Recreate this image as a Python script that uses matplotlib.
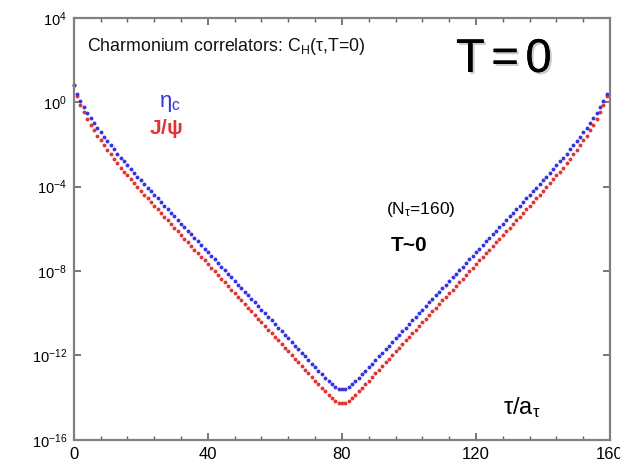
import numpy as np
import matplotlib
matplotlib.use("Agg")
import matplotlib.pyplot as plt
import matplotlib.patheffects as pe
from matplotlib.ticker import MultipleLocator, FixedLocator

plt.rcParams['font.family'] = ['Liberation Sans', 'DejaVu Sans']
plt.rcParams['mathtext.fontset'] = 'custom'
plt.rcParams['mathtext.rm'] = 'Liberation Sans'
plt.rcParams['mathtext.it'] = 'Liberation Sans:italic'
plt.rcParams['mathtext.bf'] = 'Liberation Sans:bold'

# Euclidean time slices, N_tau = 160
tau = np.arange(0, 160)

# log10 of the correlators
eta_c_log = [
    0.80, 0.38, 0.05, -0.25, -0.52, -0.77, -1.00, -1.22, -1.43, -1.64,
    -1.84, -2.04, -2.24, -2.44, -2.63, -2.81, -2.99, -3.17, -3.35, -3.53,
    -3.71, -3.88, -4.05, -4.22, -4.39, -4.56, -4.73, -4.90, -5.07, -5.24,
    -5.41, -5.58, -5.75, -5.92, -6.09, -6.26, -6.43, -6.60, -6.77, -6.94,
    -7.11, -7.28, -7.45, -7.62, -7.79, -7.96, -8.13, -8.30, -8.47, -8.64,
    -8.81, -8.98, -9.15, -9.32, -9.49, -9.66, -9.83, -10.00, -10.17, -10.34,
    -10.51, -10.68, -10.85, -11.02, -11.19, -11.36, -11.53, -11.70, -11.87, -12.04,
    -12.21, -12.38, -12.55, -12.72, -12.89, -13.05, -13.21, -13.36, -13.49, -13.58,
    -13.61,
    -13.58, -13.49, -13.36, -13.21, -13.05, -12.89, -12.72, -12.55, -12.38, -12.21,
    -12.04, -11.87, -11.70, -11.53, -11.36, -11.19, -11.02, -10.85, -10.68, -10.51,
    -10.34, -10.17, -10.00, -9.83, -9.66, -9.49, -9.32, -9.15, -8.98, -8.81,
    -8.64, -8.47, -8.30, -8.13, -7.96, -7.79, -7.62, -7.45, -7.28, -7.11,
    -6.94, -6.77, -6.60, -6.43, -6.26, -6.09, -5.92, -5.75, -5.58, -5.41,
    -5.24, -5.07, -4.90, -4.73, -4.56, -4.39, -4.22, -4.05, -3.88, -3.71,
    -3.53, -3.35, -3.17, -2.99, -2.81, -2.63, -2.44, -2.24, -2.04, -1.84,
    -1.64, -1.43, -1.22, -1.00, -0.77, -0.52, -0.25, 0.05, 0.38,
]

jpsi_log = [
    0.80, 0.29, -0.11, -0.46, -0.78, -1.07, -1.33, -1.58, -1.81, -2.04,
    -2.26, -2.47, -2.69, -2.90, -3.10, -3.29, -3.47, -3.66, -3.84, -4.03,
    -4.21, -4.38, -4.56, -4.73, -4.90, -5.08, -5.25, -5.42, -5.60, -5.77,
    -5.94, -6.11, -6.29, -6.46, -6.63, -6.81, -6.98, -7.15, -7.33, -7.50,
    -7.67, -7.84, -8.02, -8.19, -8.36, -8.53, -8.70, -8.88, -9.05, -9.22,
    -9.39, -9.56, -9.74, -9.91, -10.08, -10.25, -10.42, -10.60, -10.77, -10.94,
    -11.11, -11.28, -11.46, -11.63, -11.80, -11.98, -12.15, -12.32, -12.50, -12.67,
    -12.84, -13.01, -13.19, -13.36, -13.53, -13.69, -13.85, -14.01, -14.14, -14.23,
    -14.26,
    -14.23, -14.14, -14.01, -13.85, -13.69, -13.53, -13.36, -13.19, -13.01, -12.84,
    -12.67, -12.50, -12.32, -12.15, -11.98, -11.80, -11.63, -11.46, -11.28, -11.11,
    -10.94, -10.77, -10.60, -10.42, -10.25, -10.08, -9.91, -9.74, -9.56, -9.39,
    -9.22, -9.05, -8.88, -8.70, -8.53, -8.36, -8.19, -8.02, -7.84, -7.67,
    -7.50, -7.33, -7.15, -6.98, -6.81, -6.63, -6.46, -6.29, -6.11, -5.94,
    -5.77, -5.60, -5.42, -5.25, -5.08, -4.90, -4.73, -4.56, -4.38, -4.21,
    -4.03, -3.84, -3.66, -3.47, -3.29, -3.10, -2.90, -2.69, -2.47, -2.26,
    -2.04, -1.81, -1.58, -1.33, -1.07, -0.78, -0.46, -0.11, 0.29,
]

yticks = [1e-16, 1e-12, 1e-8, 1e-4, 1e0, 1e4]
ytick_labels = [r'$10^{-16}$', r'$10^{-12}$', r'$10^{-8}$', r'$10^{-4}$', r'$10^{0}$', r'$10^{4}$']
xticks = [0, 40, 80, 120, 160]

eta_c = 10.0 ** np.array(eta_c_log)
jpsi = 10.0 ** np.array(jpsi_log)

fig = plt.figure(figsize=(6.2, 4.67), dpi=100)
ax = fig.add_axes([0.119, 0.058, 0.865, 0.904])

ax.plot(tau, jpsi, 'o', color='#e03535', markersize=2.8, markeredgewidth=0, clip_on=False)
ax.plot(tau, eta_c, 'o', color='#3535e0', markersize=2.8, markeredgewidth=0, clip_on=False)

ax.set_yscale('log')
ax.set_xlim(0, 160)
ax.set_ylim(1e-16, 1e4)
ax.xaxis.set_major_locator(FixedLocator(xticks))
ax.xaxis.set_minor_locator(MultipleLocator(8))
ax.yaxis.set_major_locator(FixedLocator(yticks))
ax.yaxis.set_minor_locator(FixedLocator([]))
ax.set_xticklabels([str(v) for v in xticks], fontsize=12)
ax.set_yticklabels(ytick_labels, fontsize=10.5)

for s in ax.spines.values():
    s.set_color('#808080')
    s.set_linewidth(1.6)
ax.tick_params(which='both', direction='in', top=True, right=True, color='#606060')
ax.tick_params(which='major', length=5, width=1.2, pad=5)
ax.tick_params(which='minor', length=3, width=1.0)

ax.text(3.9, 4.2e2, r'Charmonium correlators: C$_{\mathregular{H}}$($\mathregular{\tau}$,T=0)',
        fontsize=12.8, color='#111111', va='center')
ax.text(114, 1.0e2, 'T$\\,$=$\\,$0', fontsize=34, va='center', color='black',
        path_effects=[pe.withSimplePatchShadow(offset=(1.5, -1.5), shadow_rgbFace='#aaaaaa', alpha=0.6),
                      pe.Normal()])
ax.text(25.5, 0.9, r'$\mathregular{\eta_c}$', fontsize=16, color='#3535e0', va='center')
ax.text(22.5, 5.5e-2, r'$\mathbf{J}$/$\mathregular{\psi}$', fontsize=15, color='#e03535',
        va='center', fontweight='bold')
ax.text(93, 8e-6, r'(N$_{\mathregular{\tau}}$=160)', fontsize=12.5, va='center')
ax.text(94.5, 1.7e-7, 'T~0', fontsize=15, fontweight='bold', va='center')
ax.text(128, 3.3e-15, r'$\mathregular{\tau}$/a$_{\mathregular{\tau}}$', fontsize=17, va='center')

fig.savefig('out.png', dpi=100)
